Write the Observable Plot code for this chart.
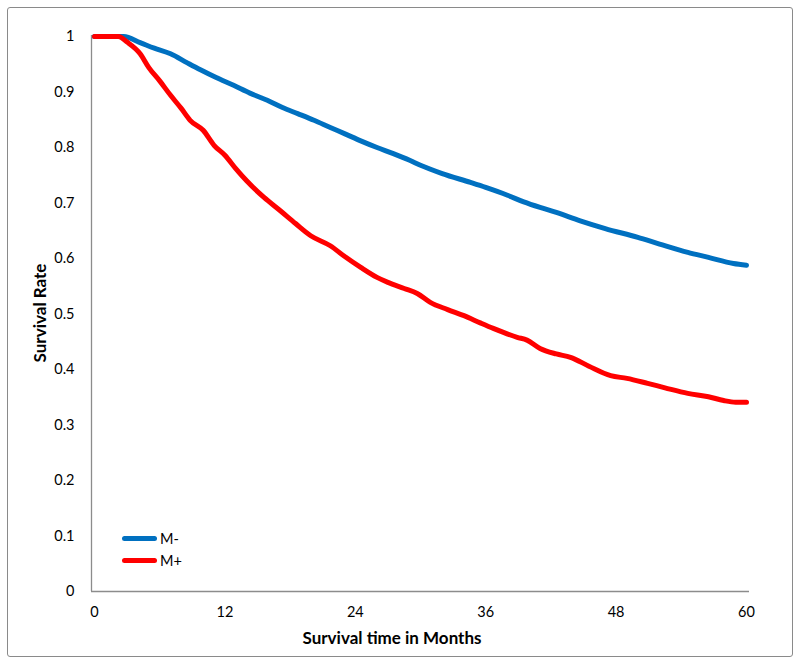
<!DOCTYPE html>
<html>
<head>
<meta charset="utf-8">
<script src="https://cdn.jsdelivr.net/npm/d3@7"></script>
<script src="https://cdn.jsdelivr.net/npm/@observablehq/plot@0.6"></script>
<style>
  html, body { margin: 0; padding: 0; background: #fff; }
  #wrap { position: relative; width: 800px; height: 664px; font-family: Lato, "Open Sans", sans-serif; }
  #frame { position: absolute; left: 7px; top: 7px; border: 1.5px solid #8a8a8a; border-radius: 3px; box-sizing: border-box; width: 786px; height: 650px; }
  #chart { position: absolute; left: 0; top: 0; }
  #legend { position: absolute; left: 122px; top: 528px; font-size: 14.5px; color: #000; }
  .item { display: flex; align-items: center; height: 21.5px; }
  .swatch { width: 35px; height: 5px; border-radius: 3px; margin-right: 3px; }
  .title { position: absolute; font-weight: bold; font-size: 17px; color: #000; white-space: nowrap; line-height: 1; }
  #xtitle { left: 392px; top: 637px; transform: translate(-50%, -50%); }
  #ytitle { left: 39px; top: 313px; transform: translate(-50%, -50%) rotate(-90deg); }
</style>
</head>
<body>
<div id="wrap">
  <div id="frame"></div>
  <div id="chart"></div>
  <div id="legend"></div>
  <div class="title" id="xtitle"></div>
  <div class="title" id="ytitle"></div>
</div>
<script>
// Titles
const xTitle = "Survival time in Months";
const yTitle = "Survival Rate";

// Series names and colours
const seriesNames = ["M-", "M+"];
const seriesColors = ["#0070C0", "#FF0000"];

// M- (blue) survival curve: months and survival rate
const monthsMinus = [0, 2.7, 4.2, 5.5, 7, 8.5, 9.75, 11.2, 12.8, 14.3, 15.9, 17.3, 18.7, 20.2, 21.7, 23, 24.5, 26, 27.5, 29, 30, 32, 34.6, 36, 38, 39.5, 41, 42.5, 44.7, 47, 50, 52, 54.6, 56.5, 58.8, 60];
const rateMinus   = [1, 1, 0.989, 0.979, 0.969, 0.953, 0.94, 0.926, 0.912, 0.898, 0.885, 0.872, 0.861, 0.849, 0.836, 0.825, 0.812, 0.8, 0.789, 0.777, 0.768, 0.753, 0.737, 0.728, 0.714, 0.702, 0.692, 0.683, 0.668, 0.654, 0.638, 0.626, 0.611, 0.602, 0.591, 0.588];

// M+ (red) survival curve: months and survival rate
const monthsPlus = [0, 2.2, 3, 4.2, 5, 6, 7, 8, 8.8, 10, 11, 12, 13, 14, 15.6, 17.1, 18.5, 19.9, 21.7, 23, 24.5, 26, 27, 28.5, 29.7, 30.9, 32.5, 34, 35.5, 36.7, 38.9, 39.8, 41, 42.5, 43.8, 45.5, 47.5, 49, 50.9, 52.5, 54.6, 56.5, 57.9, 59, 60];
const ratePlus   = [1, 1, 0.99, 0.969, 0.944, 0.92, 0.894, 0.87, 0.849, 0.831, 0.804, 0.786, 0.762, 0.74, 0.71, 0.686, 0.663, 0.641, 0.623, 0.604, 0.584, 0.566, 0.557, 0.546, 0.537, 0.521, 0.508, 0.497, 0.484, 0.474, 0.458, 0.453, 0.438, 0.428, 0.422, 0.406, 0.389, 0.384, 0.375, 0.367, 0.357, 0.351, 0.344, 0.341, 0.341];

// Axis ticks
const xTicks = [0, 12, 24, 36, 48, 60];
const yTicks = [0, 0.1, 0.2, 0.3, 0.4, 0.5, 0.6, 0.7, 0.8, 0.9, 1];

const data = [
  ...monthsMinus.map((m, i) => ({series: seriesNames[0], month: m, rate: rateMinus[i]})),
  ...monthsPlus.map((m, i) => ({series: seriesNames[1], month: m, rate: ratePlus[i]}))
];

const xPad = 0.276;
const xDomain = [xTicks[0] - xPad, xTicks[xTicks.length - 1] + xPad];

const chart = Plot.plot({
  width: 800,
  height: 664,
  marginLeft: 91,
  marginRight: 51,
  marginTop: 36,
  marginBottom: 73,
  style: {fontFamily: "Lato, 'Open Sans', sans-serif", fontSize: "14.5px", color: "#000", background: "transparent"},
  x: {domain: xDomain},
  y: {domain: [0, 1]},
  color: {domain: seriesNames, range: seriesColors},
  marks: [
    Plot.ruleX([xDomain[0]], {stroke: "#8c8c8c", strokeWidth: 1.3, y1: 0, y2: 1.002}),
    Plot.ruleY([0], {stroke: "#8c8c8c", strokeWidth: 1.3}),
    Plot.axisY({ticks: yTicks, tickSize: 0, tickPadding: 17, tickFormat: d => String(+d.toFixed(1)), label: null}),
    Plot.axisX({ticks: xTicks, tickSize: 0, tickPadding: 15, label: null}),
    Plot.line(data, {x: "month", y: "rate", z: "series", stroke: "series", strokeWidth: 5,
      strokeLinejoin: "round", strokeLinecap: "round", curve: "monotone-x"})
  ]
});
document.getElementById("chart").appendChild(chart);

document.getElementById("xtitle").textContent = xTitle;
document.getElementById("ytitle").textContent = yTitle;

const legend = document.getElementById("legend");
seriesNames.forEach((name, i) => {
  const item = document.createElement("div");
  item.className = "item";
  const sw = document.createElement("div");
  sw.className = "swatch";
  sw.style.background = seriesColors[i];
  const label = document.createElement("span");
  label.textContent = name;
  item.appendChild(sw);
  item.appendChild(label);
  legend.appendChild(item);
});
</script>
</body>
</html>
